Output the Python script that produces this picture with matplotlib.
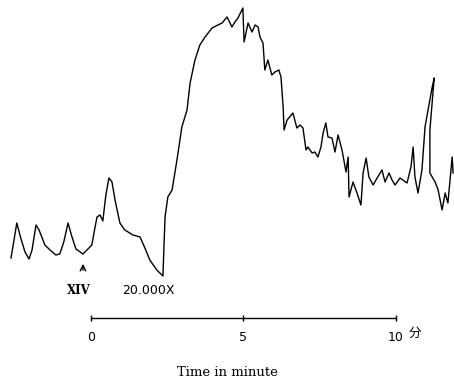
import numpy as np
from matplotlib import pyplot as plt

# trace: time [min] and deflection (arbitrary units)
t = [-2.62, -2.52, -2.43, -2.30, -2.16, -2.03, -1.93, -1.80, -1.70, -1.61,
     -1.51, -1.34, -1.15, -1.02, -0.89, -0.75, -0.62, -0.49, -0.26, -0.13,
     0.03, 0.13, 0.20, 0.30, 0.39, 0.49, 0.59, 0.69, 0.79, 0.95,
     1.11, 1.38, 1.61, 1.77, 1.93, 2.16, 2.36, 2.39, 2.43, 2.52,
     2.66, 2.82, 2.98, 3.15, 3.25, 3.41, 3.57, 3.74, 3.97, 4.16,
     4.30, 4.46, 4.56, 4.62, 4.72, 4.82, 4.98, 5.02, 5.15, 5.28,
     5.38, 5.48, 5.54, 5.64, 5.70, 5.80, 5.93, 6.03, 6.16, 6.23,
     6.26, 6.30, 6.33, 6.43, 6.62, 6.75, 6.85, 6.95, 7.05, 7.11,
     7.25, 7.34, 7.44, 7.54, 7.61, 7.70, 7.77, 7.90, 8.00, 8.10,
     8.23, 8.36, 8.43, 8.46, 8.59, 8.72, 8.85, 8.92, 9.02, 9.11,
     9.25, 9.38, 9.54, 9.64, 9.77, 9.87, 9.97, 10.13, 10.36, 10.49,
     10.56, 10.62, 10.72, 10.85, 10.95, 11.05, 11.18, 11.25, 11.11, 11.11,
     11.28, 11.38, 11.51, 11.61, 11.70, 11.84, 11.87]
sig = [42, 60, 77, 62, 48, 41, 50, 75, 70, 63,
       55, 50, 45, 46, 58, 77, 63, 51, 46, 50,
       55, 72, 83, 85, 79, 105, 122, 118, 100, 77,
       70, 65, 63, 52, 40, 30, 24, 50, 83, 103,
       110, 140, 173, 190, 217, 240, 255, 263, 272, 275,
       277, 283, 277, 273, 278, 282, 292, 258, 277, 268,
       275, 273, 263, 257, 230, 240, 225, 228, 230, 223,
       210, 193, 170, 180, 187, 172, 175, 172, 150, 153,
       147, 148, 143, 153, 167, 177, 163, 162, 148, 165,
       150, 128, 143, 103, 118, 107, 95, 127, 142, 123,
       115, 122, 130, 118, 127, 120, 115, 122, 117, 133,
       153, 123, 107, 130, 173, 190, 212, 222, 170, 127,
       118, 110, 90, 107, 97, 143, 127]

xticks = [0, 5, 10]
xticklabels = ['0', '5', '10']

fig = plt.figure(figsize=(4.54, 3.82), dpi=100)
ax = fig.add_axes([0, 0, 1, 1])
ax.plot(t, sig, '-', color='black', lw=1.0)

ax.set_xlim(-2.98, 11.90)
ax.set_ylim(-82, 300)

# time scale bar drawn as the x axis
for s in ['top', 'right', 'left']:
    ax.spines[s].set_visible(False)
ax.spines['bottom'].set_position(('data', -18))
ax.spines['bottom'].set_bounds(0, 10)
ax.spines['bottom'].set_linewidth(1.0)
ax.set_xticks(xticks)
ax.set_xticklabels(xticklabels, fontsize=9)
ax.tick_params(axis='x', direction='inout', length=5, width=1, pad=7)
ax.set_yticks([])
ax.set_xlabel('Time in minute', family='DejaVu Serif', fontsize=9.5, labelpad=16)

ax.text(10.62, -33, '分', fontsize=9, ha='center', va='center',
        family=['Noto Sans CJK JP', 'DejaVu Sans'])
ax.text(-0.39, 9, 'XIV', fontsize=8.5, ha='center', va='center',
        family='DejaVu Serif', weight='bold')
ax.text(1.02, 9, '20.000X', fontsize=9, ha='left', va='center')
ax.annotate('', xy=(-0.26, 39), xytext=(-0.26, 27),
            arrowprops=dict(arrowstyle='->', color='black', lw=1))

plt.savefig('out.png')
plt.close()
